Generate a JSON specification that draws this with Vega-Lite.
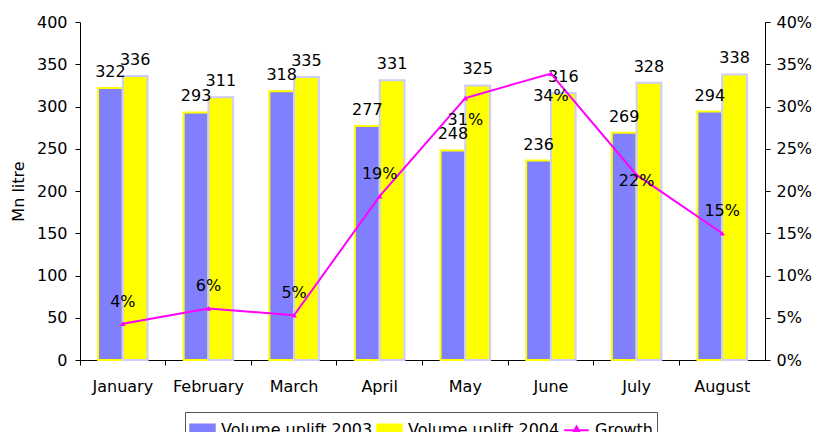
{
  "$schema": "https://vega.github.io/schema/vega-lite/v6.json",
  "autosize": {"type": "none"},
  "width": 685,
  "height": 338,
  "padding": {"left": 80, "top": 22, "right": 53, "bottom": 72},
  "background": "white",
  "config": {
    "view": {"stroke": null},
    "font": "DejaVu Sans",
    "axis": {
      "grid": false,
      "domainColor": "#000000",
      "tickColor": "#000000",
      "labelColor": "#000000",
      "titleColor": "#000000",
      "labelFont": "DejaVu Sans",
      "titleFont": "DejaVu Sans",
      "labelFontSize": 16,
      "titleFontSize": 16,
      "titleFontWeight": "normal",
      "tickSize": 5
    },
    "legend": {
      "labelFont": "DejaVu Sans",
      "labelFontSize": 16,
      "labelColor": "#000000"
    }
  },
  "datasets": {
    "bars": [
      {"month": "January", "series": "Volume uplift 2003", "value": 322},
      {"month": "January", "series": "Volume uplift 2004", "value": 336},
      {"month": "February", "series": "Volume uplift 2003", "value": 293},
      {"month": "February", "series": "Volume uplift 2004", "value": 311},
      {"month": "March", "series": "Volume uplift 2003", "value": 318},
      {"month": "March", "series": "Volume uplift 2004", "value": 335},
      {"month": "April", "series": "Volume uplift 2003", "value": 277},
      {"month": "April", "series": "Volume uplift 2004", "value": 331},
      {"month": "May", "series": "Volume uplift 2003", "value": 248},
      {"month": "May", "series": "Volume uplift 2004", "value": 325},
      {"month": "June", "series": "Volume uplift 2003", "value": 236},
      {"month": "June", "series": "Volume uplift 2004", "value": 316},
      {"month": "July", "series": "Volume uplift 2003", "value": 269},
      {"month": "July", "series": "Volume uplift 2004", "value": 328},
      {"month": "August", "series": "Volume uplift 2003", "value": 294},
      {"month": "August", "series": "Volume uplift 2004", "value": 338}
    ],
    "growth": [
      {"month": "January", "series": "Growth", "growth": 0.043},
      {"month": "February", "series": "Growth", "growth": 0.061},
      {"month": "March", "series": "Growth", "growth": 0.053},
      {"month": "April", "series": "Growth", "growth": 0.194},
      {"month": "May", "series": "Growth", "growth": 0.310},
      {"month": "June", "series": "Growth", "growth": 0.339},
      {"month": "July", "series": "Growth", "growth": 0.219},
      {"month": "August", "series": "Growth", "growth": 0.150}
    ]
  },
  "encoding": {
    "x": {
      "field": "month",
      "type": "nominal",
      "sort": ["January", "February", "March", "April", "May", "June", "July", "August"],
      "scale": {"paddingInner": 0, "paddingOuter": 0},
      "axis": {"title": null, "labelAngle": 0, "labelPadding": 13, "bandPosition": 0, "tickSize": 5}
    }
  },
  "layer": [
    {
      "data": {"name": "bars"},
      "encoding": {
        "y": {
          "field": "value",
          "type": "quantitative",
          "scale": {"domain": [0, 400], "nice": false},
          "axis": {"title": "Mn litre", "values": [0, 50, 100, 150, 200, 250, 300, 350, 400], "labelPadding": 8, "titlePadding": 10}
        },
        "xOffset": {
          "field": "series",
          "type": "nominal",
          "sort": ["Volume uplift 2003", "Volume uplift 2004"],
          "scale": {"paddingInner": 0, "paddingOuter": 0.73}
        }
      },
      "layer": [
        {
          "mark": {"type": "bar", "strokeWidth": 2},
          "encoding": {
            "color": {
              "field": "series",
              "type": "nominal",
              "scale": {
                "domain": ["Volume uplift 2003", "Volume uplift 2004", "Growth"],
                "range": ["#8080FF", "#FFFF00", "#FF00FF"]
              },
              "legend": {
                "orient": "none",
                "legendX": 105,
                "legendY": 390,
                "title": null,
                "direction": "horizontal",
                "strokeColor": "#555555",
                "padding": 4,
                "columnPadding": 0,
                "symbolSize": 600,
                "symbolStrokeWidth": 2,
                "labelOffset": 5,
                "encode": {
                  "symbols": {
                    "update": {
                      "shape": {"signal": "datum.value === 'Growth' ? 'M-1,0H1M0,-0.3L0.25,0.15H-0.25Z' : 'M-1,-0.42H1V0.42H-1Z'"},
                      "fill": {"signal": "datum.value === 'Volume uplift 2003' ? '#8080FF' : datum.value === 'Volume uplift 2004' ? '#FFFF00' : '#FF00FF'"},
                      "stroke": {"signal": "datum.value === 'Volume uplift 2003' ? '#FFFF00' : datum.value === 'Volume uplift 2004' ? '#CCCCFF' : '#FF00FF'"},
                      "strokeWidth": {"value": 2},
                      "strokeOpacity": {"value": 1},
                      "opacity": {"value": 1},
                      "fillOpacity": {"value": 1}
                    }
                  }
                }
              }
            },
            "stroke": {
              "field": "series",
              "type": "nominal",
              "scale": {"domain": ["Volume uplift 2003", "Volume uplift 2004"], "range": ["#FFFF00", "#CCCCFF"]},
              "legend": null
            }
          }
        },
        {
          "mark": {"type": "text", "baseline": "bottom", "dy": -8, "fontSize": 16, "color": "#000000"},
          "encoding": {"text": {"field": "value", "type": "quantitative"}}
        }
      ]
    },
    {
      "data": {"name": "growth"},
      "encoding": {
        "y": {
          "field": "growth",
          "type": "quantitative",
          "scale": {"domain": [0, 0.4], "nice": false},
          "axis": {"orient": "right", "title": null, "format": ".0%", "values": [0, 0.05, 0.1, 0.15, 0.2, 0.25, 0.3, 0.35, 0.4], "labelPadding": 6}
        }
      },
      "layer": [
        {
          "mark": {"type": "line", "strokeWidth": 2, "point": {"shape": "triangle-up", "size": 30, "filled": true, "color": "#FF00FF"}},
          "encoding": {
            "color": {"field": "series", "type": "nominal"}
          }
        },
        {
          "transform": [{"filter": "indexof(['January','February','March','April','August'], datum.month) >= 0"}],
          "mark": {"type": "text", "baseline": "middle", "dy": -22, "fontSize": 16, "color": "#000000"},
          "encoding": {"text": {"field": "growth", "type": "quantitative", "format": ".0%"}}
        },
        {
          "transform": [{"filter": "indexof(['May','June'], datum.month) >= 0"}],
          "mark": {"type": "text", "baseline": "middle", "dy": 22, "fontSize": 16, "color": "#000000"},
          "encoding": {"text": {"field": "growth", "type": "quantitative", "format": ".0%"}}
        },
        {
          "transform": [{"filter": "datum.month === 'July'"}],
          "mark": {"type": "text", "baseline": "middle", "dy": 6, "fontSize": 16, "color": "#000000"},
          "encoding": {"text": {"field": "growth", "type": "quantitative", "format": ".0%"}}
        }
      ]
    }
  ],
  "resolve": {"scale": {"y": "independent"}}
}
